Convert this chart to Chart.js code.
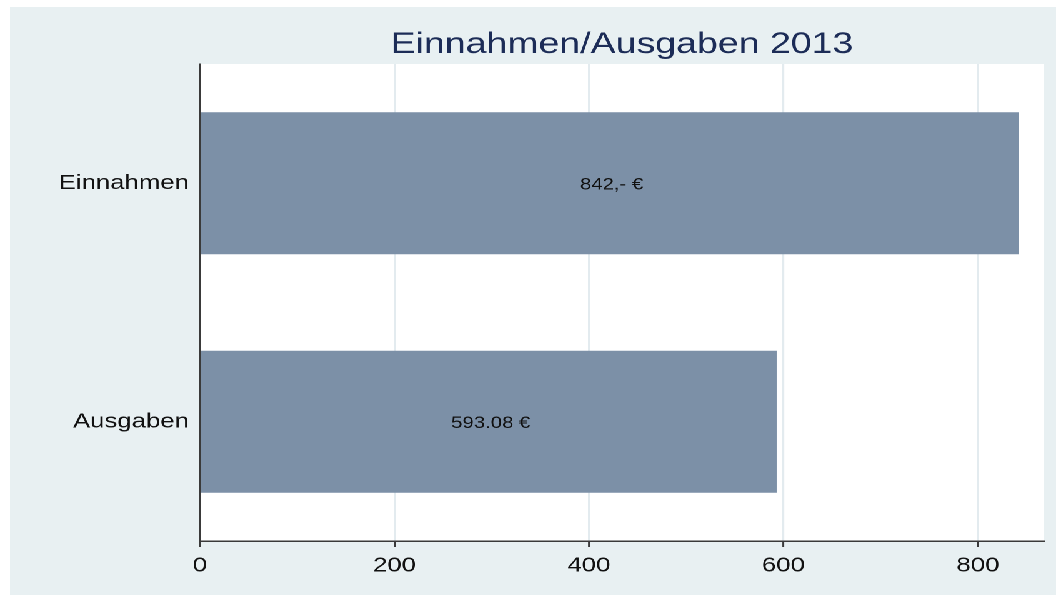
<!DOCTYPE html>
<html><head><meta charset="utf-8">
<script src="https://cdn.jsdelivr.net/npm/chart.js@4"></script>
<style>
html,body{margin:0;padding:0;background:#fff;width:1056px;height:595px;overflow:hidden}
#wrap{position:absolute;left:10px;top:7px;width:837px;height:588px;transform:scaleX(1.2497);transform-origin:0 0;background:#e8f0f2}
</style></head><body>
<div id="wrap"><canvas id="c" width="837" height="588"></canvas></div>
<script>
const categories = ['Einnahmen', 'Ausgaben'];
const values = [842, 593.08];
const valueLabels = ['842,- €', '593.08 €'];
const xTicks = [0, 200, 400, 600, 800];
const titleText = 'Einnahmen/Ausgaben 2013';

const FONT = "'Liberation Sans', Arial, sans-serif";
const AXIS = '#3a3a3a';

const plotBg = {
  id: 'plotBg',
  beforeDraw(chart) {
    const {ctx, chartArea: a} = chart;
    ctx.save();
    ctx.fillStyle = '#ffffff';
    ctx.fillRect(a.left, a.top, a.right - a.left, a.bottom - a.top);
    ctx.restore();
  }
};
const barLabels = {
  id: 'barLabels',
  afterDatasetsDraw(chart) {
    const {ctx} = chart;
    const meta = chart.getDatasetMeta(0);
    ctx.save();
    ctx.font = '16.3px ' + FONT;
    ctx.fillStyle = '#111';
    ctx.textAlign = 'center';
    ctx.textBaseline = 'middle';
    meta.data.forEach((el, i) => {
      ctx.fillText(valueLabels[i], (el.x + el.base) / 2 + 1.5, el.y + 2);
    });
    ctx.restore();
  }
};

new Chart(document.getElementById('c'), {
  type: 'bar',
  data: {
    labels: categories,
    datasets: [{
      data: values,
      backgroundColor: '#7c90a7',
      borderWidth: 0,
      barPercentage: 0.595,
      categoryPercentage: 1
    }]
  },
  options: {
    indexAxis: 'y',
    responsive: false,
    animation: false,
    devicePixelRatio: 2,
    layout: {padding: {left: 0, right: 9.6, top: 0, bottom: 0}},
    plugins: {
      legend: {display: false},
      tooltip: {enabled: false},
      title: {
        display: true,
        text: titleText,
        fullSize: false,
        color: '#1c2c57',
        font: {family: FONT, size: 30, weight: 'normal', lineHeight: 1.2},
        padding: {top: 19.5, bottom: 1.5}
      }
    },
    scales: {
      x: {
        type: 'linear',
        min: 0,
        max: 868,
        afterBuildTicks: s => { s.ticks = xTicks.map(v => ({value: v})); },
        afterFit: s => { s.height = 54; },
        grid: {
          color: c => (c.tick && c.tick.value === 0) ? 'rgba(0,0,0,0)' : '#e3ebef',
          lineWidth: 1.6,
          drawTicks: true,
          tickLength: 6,
          tickColor: AXIS,
          tickWidth: 1.5
        },
        border: {display: true, color: AXIS, width: 1.5},
        ticks: {color: '#111', font: {family: FONT, size: 20.6}, padding: 6.5, maxRotation: 0}
      },
      y: {
        afterFit: s => { s.width = 152; },
        grid: {display: false, drawTicks: false},
        border: {display: true, color: AXIS, width: 1.5},
        ticks: {color: '#111', font: {family: FONT, size: 20.6}, padding: 8.8}
      }
    }
  },
  plugins: [plotBg, barLabels]
});
</script>
</body></html>
